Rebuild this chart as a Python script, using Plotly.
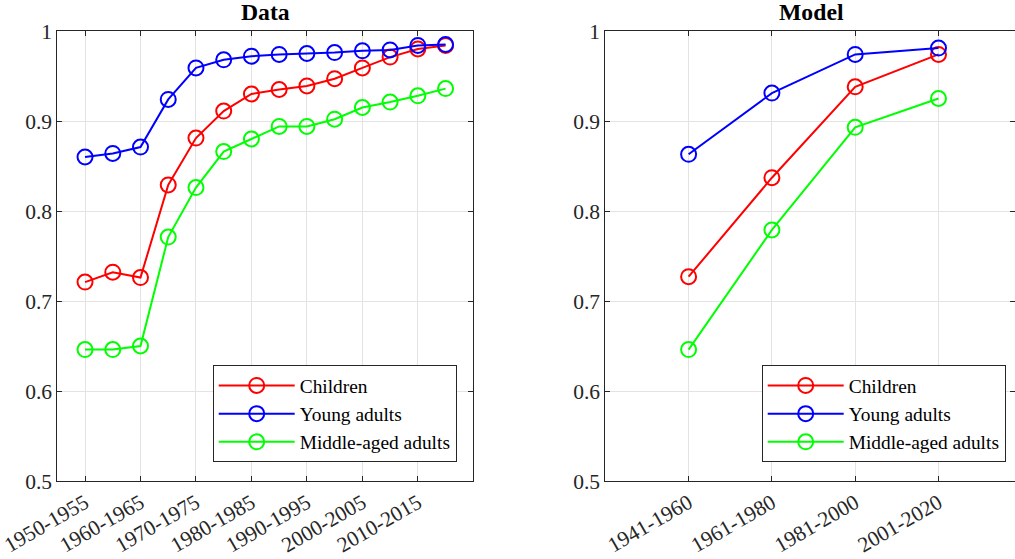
import plotly.graph_objects as go

# ---- Data (left panel) ----
data_periods = ["1950-1955", "1955-1960", "1960-1965", "1965-1970", "1970-1975",
                "1975-1980", "1980-1985", "1985-1990", "1990-1995", "1995-2000",
                "2000-2005", "2005-2010", "2010-2015", "2015-2020"]
data_children = [0.721, 0.732, 0.726, 0.829, 0.881, 0.911, 0.930, 0.935, 0.939,
                 0.947, 0.959, 0.971, 0.980, 0.984]
data_young = [0.860, 0.864, 0.871, 0.924, 0.959, 0.968, 0.972, 0.974, 0.975,
              0.976, 0.978, 0.979, 0.984, 0.985]
data_middle = [0.646, 0.646, 0.650, 0.771, 0.826, 0.866, 0.880, 0.894, 0.894,
               0.902, 0.915, 0.921, 0.928, 0.936]

# ---- Model (right panel) ----
model_periods = ["1941-1960", "1961-1980", "1981-2000", "2001-2020"]
model_children = [0.727, 0.837, 0.938, 0.974]
model_young = [0.863, 0.931, 0.974, 0.981]
model_middle = [0.646, 0.779, 0.893, 0.925]

series_names = ["Children", "Young adults", "Middle-aged adults"]
colors = ["#ff0000", "#0000ff", "#00ff00"]

y_ticks = [0.5, 0.6, 0.7, 0.8, 0.9, 1.0]
y_tick_text = ["0.5", "0.6", "0.7", "0.8", "0.9", "1"]

FONT = "Liberation Serif"
W, H = 1015, 559


def px(xs):
    return xs / W


def py(ys):
    return (H - ys) / H


fig = go.Figure()

data_x = list(range(len(data_periods)))
model_x = list(range(1, len(model_periods) + 1))

for name, col, ys in zip(series_names, colors, [data_children, data_young, data_middle]):
    fig.add_trace(go.Scatter(
        x=data_x, y=ys, name=name, mode="lines+markers",
        line=dict(color=col, width=2),
        marker=dict(symbol="circle-open", size=15, color=col, line=dict(width=2, color=col)),
        xaxis="x", yaxis="y", legend="legend"))

for name, col, ys in zip(series_names, colors, [model_children, model_young, model_middle]):
    fig.add_trace(go.Scatter(
        x=model_x, y=ys, name=name, mode="lines+markers",
        line=dict(color=col, width=2),
        marker=dict(symbol="circle-open", size=15, color=col, line=dict(width=2, color=col)),
        xaxis="x2", yaxis="y2", legend="legend2"))

axis_common = dict(
    showline=True, linecolor="#262626", linewidth=1, mirror="ticks",
    ticks="inside", ticklen=5, tickcolor="#262626", automargin=False,
    showgrid=True, gridcolor="#e3e3e3", gridwidth=1, zeroline=False,
    tickfont=dict(family=FONT, size=21.5, color="#262626"),
)

ydom = [py(481), py(31)]
left_dom = [px(57.3), px(473.3)]
right_dom = [px(605.3), 1.0]
right_max = (W - 605.3) / 83.3

data_tickvals = data_x[::2]
data_ticktext = data_periods[::2]

legend_common = dict(
    xanchor="right", yanchor="bottom",
    bgcolor="white", bordercolor="#262626", borderwidth=1,
    font=dict(family=FONT, size=19.4, color="black"), itemwidth=76,
    tracegroupgap=0,
)

fig.update_layout(
    width=W, height=H,
    margin=dict(l=0, r=0, t=0, b=0, pad=0),
    paper_bgcolor="white", plot_bgcolor="white",
    showlegend=True,
    xaxis=dict(domain=left_dom, range=[-1, 14], tickvals=data_tickvals, ticktext=data_ticktext,
               tickangle=-30, anchor="y", ticklabeloverflow="allow", **axis_common),
    yaxis=dict(domain=ydom, range=[0.5, 1.0], tickvals=y_ticks, ticktext=y_tick_text,
               anchor="x", **axis_common),
    xaxis2=dict(domain=right_dom, range=[0, right_max], tickvals=model_x, ticktext=model_periods,
                tickangle=-30, anchor="y2", ticklabeloverflow="allow", **axis_common),
    yaxis2=dict(domain=ydom, range=[0.5, 1.0], tickvals=y_ticks, ticktext=y_tick_text,
                anchor="x2", **axis_common),
    legend=dict(x=px(456.7), y=py(462.3), **legend_common),
    legend2=dict(x=px(1005.7), y=py(462.3), **legend_common),
    annotations=[
        dict(text="<b>Data</b>", x=(left_dom[0] + left_dom[1]) / 2, y=py(12.5),
             xref="paper", yref="paper", showarrow=False, xanchor="center", yanchor="middle",
             font=dict(family=FONT, size=23.7, color="black")),
        dict(text="<b>Model</b>", x=px(811), y=py(12.5),
             xref="paper", yref="paper", showarrow=False, xanchor="center", yanchor="middle",
             font=dict(family=FONT, size=23.7, color="black")),
    ],
)

fig.write_html("out.html",
               config={"displayModeBar": False},
               post_script="document.body.style.margin='0';document.body.style.overflow='hidden';")
